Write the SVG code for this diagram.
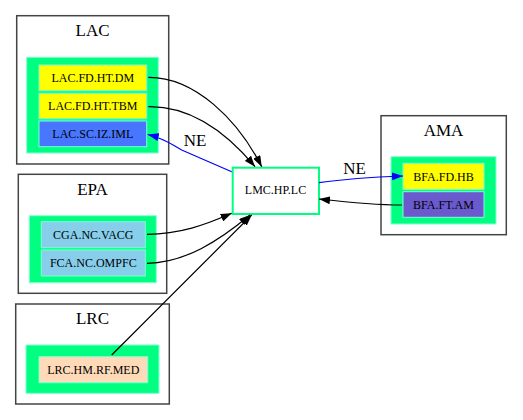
<svg xmlns="http://www.w3.org/2000/svg" width="523" height="420" viewBox="0 0 523 420">
<style>
.cl{fill:#fff;stroke:#444;stroke-width:1.5}
.gr{fill:#00ff80;stroke:#7fffd4;stroke-width:1}
.nd{stroke:#7fffd4;stroke-width:1}
.t{font-family:"Liberation Serif","Times New Roman",serif;font-size:12px;text-anchor:middle;fill:#000}
.ct{font-family:"Liberation Serif","Times New Roman",serif;font-size:17px;text-anchor:middle;fill:#000}
.e{fill:none;stroke:#000;stroke-width:1.2}
.eb{fill:none;stroke:#0000ff;stroke-width:1.2}
</style>
<defs>
<marker id="ah" markerUnits="userSpaceOnUse" markerWidth="11" markerHeight="8" refX="11" refY="4" orient="auto"><path d="M0,0 L11,4 L0,8 z" fill="#000"/></marker>
<marker id="ahb" markerUnits="userSpaceOnUse" markerWidth="11" markerHeight="8" refX="11" refY="4" orient="auto"><path d="M0,0 L11,4 L0,8 z" fill="#0000ff"/></marker>
</defs>
<rect width="523" height="420" fill="#fff"/>
<g id="LAC">
<rect class="cl" x="16.7" y="15.7" width="152" height="148.3"/>
<text class="ct" x="92.5" y="36">LAC</text>
<rect class="gr" x="26.7" y="57.3" width="131.6" height="95.7"/>
</g>
<g id="EPA">
<rect class="cl" x="18.3" y="174.3" width="148.4" height="119"/>
<text class="ct" x="92.5" y="195">EPA</text>
<rect class="gr" x="29.3" y="215.7" width="127" height="67"/>
</g>
<g id="LRC">
<rect class="cl" x="15.7" y="304" width="153.6" height="100"/>
<text class="ct" x="92.5" y="324">LRC</text>
<rect class="gr" x="26" y="345" width="133" height="48.3"/>
</g>
<g id="AMA">
<rect class="cl" x="381" y="115.7" width="125.3" height="119"/>
<text class="ct" x="443.5" y="136">AMA</text>
<rect class="gr" x="391" y="156.7" width="105" height="67.3"/>
</g>
<g id="n_LAC_FD_HT_DM"><rect class="nd" x="39" y="65" width="107.7" height="25.7" fill="#ffff00"/><text class="t" x="92.8" y="82">LAC.FD.HT.DM</text></g>
<g id="n_LAC_FD_HT_TBM"><rect class="nd" x="39" y="93.3" width="107.7" height="25.4" fill="#ffff00"/><text class="t" x="92.8" y="110">LAC.FD.HT.TBM</text></g>
<g id="n_LAC_SC_IZ_IML"><rect class="nd" x="39" y="121" width="107.7" height="25.7" fill="#4876ff"/><text class="t" x="92.8" y="138">LAC.SC.IZ.IML</text></g>
<g id="n_CGA_NC_VACG"><rect class="nd" x="41.3" y="221.7" width="104" height="26" fill="#87ceeb"/><text class="t" x="93.3" y="238.5">CGA.NC.VACG</text></g>
<g id="n_FCA_NC_OMPFC"><rect class="nd" x="41.3" y="250" width="104" height="26" fill="#87ceeb"/><text class="t" x="93.3" y="267">FCA.NC.OMPFC</text></g>
<g id="n_LRC_HM_RF_MED"><rect class="nd" x="39" y="356.7" width="108.7" height="26" fill="#ffdab9"/><text class="t" x="93.3" y="373.5">LRC.HM.RF.MED</text></g>
<g id="n_BFA_FD_HB"><rect class="nd" x="403" y="163.3" width="81" height="26" fill="#ffff00"/><text class="t" x="443.5" y="180.5">BFA.FD.HB</text></g>
<g id="n_BFA_FT_AM"><rect class="nd" x="403" y="191.7" width="81" height="25.6" fill="#6a5acd"/><text class="t" x="443.5" y="208.5">BFA.FT.AM</text></g>
<g id="n_LMC_HP_LC"><rect x="232.7" y="167.7" width="86.3" height="46.3" fill="#fff" stroke="#00ff80" stroke-width="2"/><text class="t" x="275.5" y="194">LMC.HP.LC</text></g>
<g id="edges">
<path class="e" d="M148.3,77.3 C195,77 238,120 261.7,166.7" marker-end="url(#ah)"/>
<path class="e" d="M148.3,106.7 C190,106 226,132 255,166.7" marker-end="url(#ah)"/>
<path class="eb" d="M231.7,171.7 L181.7,150 C172,145 166,139 147.7,134.5" marker-end="url(#ahb)"/>
<text class="ct" x="195" y="146">NE</text>
<path class="e" d="M147,234.3 C180,234 205,225 231.7,213.3" marker-end="url(#ah)"/>
<path class="e" d="M147,263.3 C185,263 220,240 250,215" marker-end="url(#ah)"/>
<path class="e" d="M111.7,355 L251.7,215" marker-end="url(#ah)"/>
<path class="eb" d="M319,182.7 C345,179 375,177 403,176" marker-end="url(#ahb)"/>
<text class="ct" x="354.5" y="174">NE</text>
<path class="e" d="M402,205 C370,205 345,202 319,199" marker-end="url(#ah)"/>
</g>
</svg>
